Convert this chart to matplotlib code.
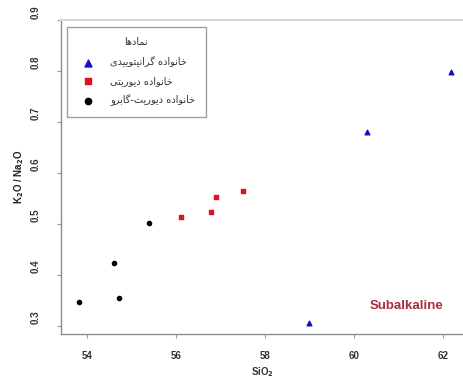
import matplotlib
matplotlib.use("Agg")
from matplotlib import pyplot as plt
from matplotlib import transforms

# SiO2 vs K2O/Na2O for the three rock families
granitoid_x = [58.99, 60.29, 62.18]
granitoid_y = [0.306, 0.680, 0.798]
diorite_x = [56.11, 56.79, 56.90, 57.50]
diorite_y = [0.514, 0.524, 0.553, 0.565]
gabbro_x = [53.82, 54.61, 54.72, 55.39]
gabbro_y = [0.347, 0.424, 0.355, 0.502]

legend_title = "نمادها"
labels = ["خانواده گرانیتوییدی", "خانواده دیوریتی", "خانواده دیوریت-گابرو"]
x_ticks = [54, 56, 58, 60, 62]
y_ticks = [0.3, 0.4, 0.5, 0.6, 0.7, 0.8, 0.9]

# contextual forms: isolated, final, initial, medial (None = joins on the right only)
FORMS = {
    "ا": ("\uFE8D", "\uFE8E", None, None),
    "ب": ("\uFE8F", "\uFE90", "\uFE91", "\uFE92"),
    "ت": ("\uFE95", "\uFE96", "\uFE97", "\uFE98"),
    "خ": ("\uFEA5", "\uFEA6", "\uFEA7", "\uFEA8"),
    "د": ("\uFEA9", "\uFEAA", None, None),
    "ر": ("\uFEAD", "\uFEAE", None, None),
    "م": ("\uFEE1", "\uFEE2", "\uFEE3", "\uFEE4"),
    "ن": ("\uFEE5", "\uFEE6", "\uFEE7", "\uFEE8"),
    "ه": ("\uFEE9", "\uFEEA", "\uFEEB", "\uFEEC"),
    "و": ("\uFEED", "\uFEEE", None, None),
    "گ": ("\uFB92", "\uFB93", "\uFB94", "\uFB95"),
    "ی": ("\uFBFC", "\uFBFD", "\uFBFE", "\uFBFF"),
}


def dual(c):
    return c in FORMS and FORMS[c][2] is not None


def shape(s):
    out = []
    for i, c in enumerate(s):
        if c not in FORMS:
            out.append(c)
            continue
        prev = s[i - 1] if i > 0 else ""
        nxt = s[i + 1] if i + 1 < len(s) else ""
        left = dual(prev)
        right = dual(c) and nxt in FORMS
        f = FORMS[c]
        if left and right:
            out.append(f[3])
        elif left:
            out.append(f[1])
        elif right:
            out.append(f[2])
        else:
            out.append(f[0])
    return "".join(out)[::-1]


plt.rcParams["font.family"] = ["Liberation Sans", "DejaVu Sans"]

fig = plt.figure(figsize=(4.64, 3.79), dpi=100)
ax = fig.add_axes([0.1315, 0.119, 0.869, 0.828])

ax.scatter(granitoid_x, granitoid_y, marker="^", s=11, c="#1010c8", label=shape(labels[0]), zorder=3)
ax.scatter(diorite_x, diorite_y, marker="s", s=9, c="#e0101c", label=shape(labels[1]), zorder=3)
ax.scatter(gabbro_x, gabbro_y, marker="o", s=9, c="black", label=shape(labels[2]), zorder=3)

ax.set_xlim(53.42, 62.47)
ax.set_ylim(0.284, 0.900)
ax.set_xticks(x_ticks)
ax.set_yticks(y_ticks)
ax.set_xticklabels([str(v) for v in x_ticks], fontsize=7, fontweight="bold", color="#333333")
ax.set_yticklabels([str(v) for v in y_ticks], fontsize=7, fontweight="bold", color="#333333",
                   rotation=90, va="center")
ax.tick_params(axis="x", length=3, width=0.8, color="#999999", pad=9)
ax.tick_params(axis="y", length=3, width=0.8, color="#999999", pad=12)

# y tick labels sit a little above their ticks
shift = transforms.ScaledTranslation(0, 6 / 72, fig.dpi_scale_trans)
for lab in ax.get_yticklabels():
    lab.set_transform(lab.get_transform() + shift)

for side in ("left", "bottom"):
    ax.spines[side].set_color("#8c8c8c")
    ax.spines[side].set_linewidth(1.0)
ax.spines["right"].set_visible(False)
ax.spines["top"].set_color("#d8d8d8")
ax.spines["top"].set_linewidth(1.5)

ax.set_xlabel("SiO$_\\mathbf{2}$", fontsize=7, fontweight="bold", color="#333333", labelpad=3)
ax.set_ylabel("K$_\\mathbf{2}$O / Na$_\\mathbf{2}$O", fontsize=7, fontweight="bold", color="#222222", labelpad=3)

ax.text(61.17, 0.339, "Subalkaline", fontsize=9.5, fontweight="bold", color="#a5303c",
        ha="center", va="center")

leg = ax.legend(title=shape(legend_title), loc="upper left", bbox_to_anchor=(0.008, 0.988),
                prop={"family": "DejaVu Sans", "size": 7}, title_fontproperties={"family": "DejaVu Sans", "size": 7},
                frameon=True, fancybox=False, edgecolor="#888888", borderpad=1.1,
                labelspacing=0.9, handletextpad=1.3, borderaxespad=0.3, markerscale=1.5, scatterpoints=1)
leg.get_frame().set_linewidth(1.0)
for t in leg.get_texts():
    t.set_color("#333333")
leg.get_title().set_color("#333333")

fig.savefig("out.png", dpi=100, facecolor="white")
